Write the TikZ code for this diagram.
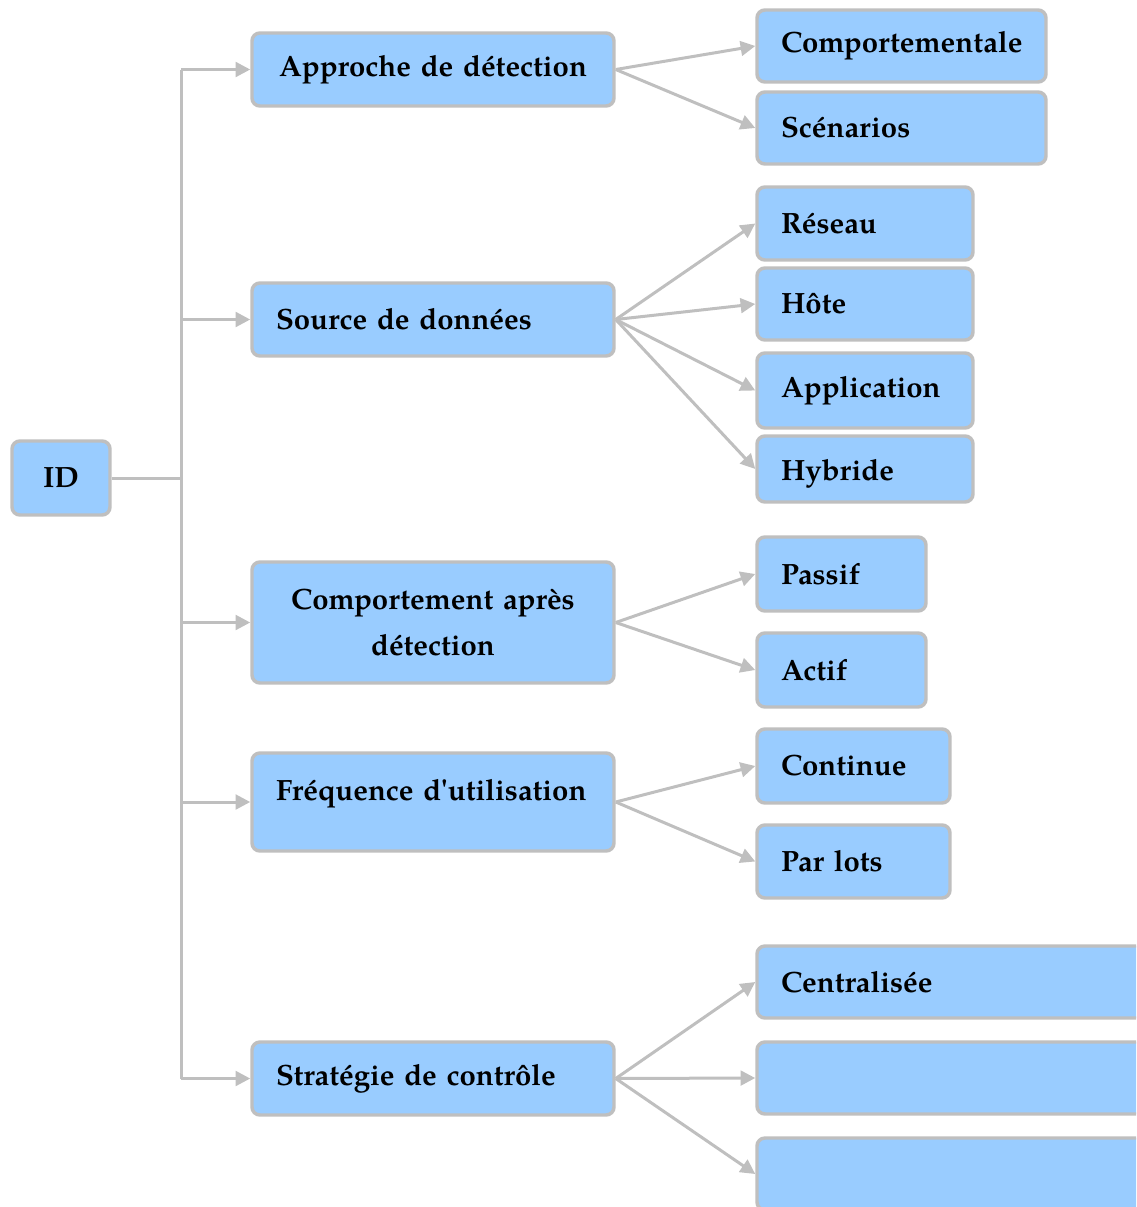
\documentclass[tikz,border=0pt]{standalone}
\usepackage{fontspec}
\setmainfont{TeX Gyre Pagella}[Ligatures=TeXOff]
\usetikzlibrary{arrows.meta}
\definecolor{boxfill}{HTML}{99CCFF}
\definecolor{edgegray}{HTML}{BFBFBF}
\begin{document}
\begin{tikzpicture}[x=0.75pt,y=-0.75pt,
  box/.style={draw=edgegray, line width=2.6pt, fill=boxfill, rounded corners=6pt,
    font=\fontsize{22}{34.5}\selectfont\bfseries, inner ysep=0pt},
  lbox/.style={box, align=left, inner xsep=18pt},
  cbox/.style={box, align=center, inner xsep=0pt},
  conn/.style={draw=edgegray, line width=2.25pt},
  arr/.style={conn, -{Triangle[length=11pt,width=11pt]}},
]
\useasboundingbox (0,0) rectangle (1136,1207);
\clip (0,0) rectangle (1136,1207);

% root
\node[cbox, minimum width=73.5pt, minimum height=55.5pt, text width=73.5pt] (id) at (61,478) {ID};

% first level
\node[cbox, minimum width=271.5pt, minimum height=54.75pt, text width=271.5pt] (appr) at (433,69.5) {Approche de détection};
\node[lbox, minimum width=271.5pt, minimum height=54.75pt, text width=235.5pt] (src) at (433,319.5) {Source de données};
\node[cbox, minimum width=271.5pt, minimum height=90.75pt, text width=271.5pt] (comp) at (433,622.5) {Comportement après\\détection};
\node[lbox, minimum width=271.5pt, minimum height=73.5pt, text width=235.5pt,
  text height=16.5pt, text depth=19.5pt] (freq) at (433,802) {Fréquence d'utilisation};
\node[lbox, minimum width=271.5pt, minimum height=54.75pt, text width=235.5pt] (strat) at (433,1078.5) {Stratégie de contrôle};

% second level
\node[lbox, minimum width=216.75pt, minimum height=54pt, text width=180.75pt] (cmpt) at (901.5,46) {Comportementale};
\node[lbox, minimum width=216.75pt, minimum height=54pt, text width=180.75pt] (scen) at (901.5,128) {Scénarios};

\node[lbox, minimum width=162pt, minimum height=54.75pt, text width=126pt] (res) at (865,223.5) {Réseau};
\node[lbox, minimum width=162pt, minimum height=54pt, text width=126pt] (hote) at (865,304) {Hôte};
\node[lbox, minimum width=162pt, minimum height=56.25pt, text width=126pt] (appl) at (865,390.5) {Application};
\node[lbox, minimum width=162pt, minimum height=49.5pt, text width=126pt,
  text height=23pt, text depth=6pt] (hyb) at (865,469) {Hybride};

\node[lbox, minimum width=126.75pt, minimum height=55.5pt, text width=90.75pt] (pass) at (841.5,574) {Passif};
\node[lbox, minimum width=126.75pt, minimum height=55.5pt, text width=90.75pt] (act) at (841.5,670) {Actif};

\node[lbox, minimum width=144.75pt, minimum height=55.5pt, text width=108.75pt] (cont) at (853.5,766) {Continue};
\node[lbox, minimum width=144.75pt, minimum height=54.75pt, text width=108.75pt] (lots) at (853.5,861.5) {Par lots};

\node[lbox, minimum width=330pt, minimum height=54pt, text width=294pt] (cent) at (977,982) {Centralisée};
\node[lbox, minimum width=330pt, minimum height=54pt, text width=294pt] (blka) at (977,1078) {};
\node[lbox, minimum width=330pt, minimum height=54pt, text width=294pt] (blkb) at (977,1174) {};

% trunk
\coordinate (trunk) at (181,478);
\draw[conn] (id.east) -- (trunk);
\draw[conn] (trunk |- appr.west) -- (trunk |- strat.west);
\foreach \n in {appr,src,comp,freq,strat}
  \draw[arr] (trunk |- \n.west) -- (\n.west);

% branches
\foreach \a/\b in {appr/cmpt, appr/scen,
                   src/res, src/hote, src/appl, src/hyb,
                   comp/pass, comp/act,
                   freq/cont, freq/lots,
                   strat/cent, strat/blka, strat/blkb}
  \draw[arr] (\a.east) -- (\b.west);
\end{tikzpicture}
\end{document}
